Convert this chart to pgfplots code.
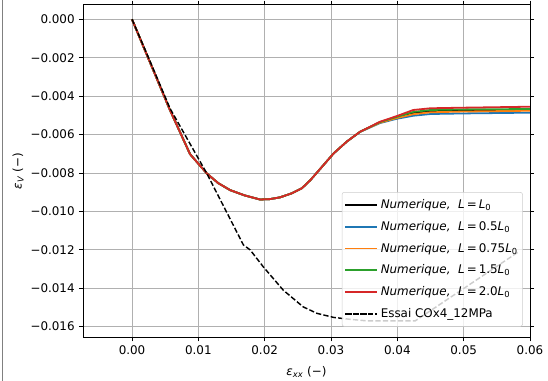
\documentclass[border=0pt]{standalone}
\usepackage{fontspec}
\setmainfont{DejaVu Sans}
\usepackage{pgfplots}
\pgfplotsset{compat=1.18}
\definecolor{tabblue}{HTML}{1F77B4}
\definecolor{taborange}{HTML}{FF7F0E}
\definecolor{tabgreen}{HTML}{2CA02C}
\definecolor{tabred}{HTML}{D62728}
\definecolor{gridgray}{HTML}{B0B0B0}
\begin{document}
\begin{tikzpicture}
\path[use as bounding box] (-69.67pt,-36.6pt) rectangle (390.33pt,283.12pt);
\draw[gray, line width=0.8pt] (-67.2pt,-36.6pt) -- (-67.2pt,283.12pt);
\begin{axis}[
  scale only axis,
  width=375.2pt, height=279.2pt,
  xmin=-0.00739, xmax=0.06,
  ymin=-0.016555, ymax=0.000763,
  xtick={0,0.01,0.02,0.03,0.04,0.05,0.06},
  xticklabels={0.00,0.01,0.02,0.03,0.04,0.05,0.06},
  ytick={-0.016,-0.014,-0.012,-0.010,-0.008,-0.006,-0.004,-0.002,0},
  yticklabels={−0.016,−0.014,−0.012,−0.010,−0.008,−0.006,−0.004,−0.002,0.000},
  scaled ticks=false,
  tick align=outside,
  major tick length=3.5pt,
  every tick/.style={black, line width=0.8pt},
  axis line style={line width=0.8pt},
  tick label style={font=\fontsize{10}{12}\selectfont},
  grid=major,
  major grid style={gridgray, line width=0.8pt},
  xlabel={\textit{ε}\textsubscript{\textit{xx}} (−)},
  ylabel={\textit{ε}\textsubscript{\textit{V}} (−)},
  label style={font=\fontsize{10}{12}\selectfont},
  xlabel style={at={(axis description cs:0.5,-0.1034)}, anchor=center},
  ylabel style={at={(axis description cs:-0.1454,0.5)}, anchor=center},
  legend cell align=left,
  legend style={at={(0.984,0.032)}, anchor=south east,
    draw=black!20, fill=white, fill opacity=0.8, text opacity=1, draw opacity=1,
    rounded corners=2pt, font=\fontsize{10}{12}\selectfont,
    row sep=5.2pt, inner xsep=2pt, inner ysep=4pt},
  legend image code/.code={\draw[#1, line width=1.5pt] (0pt,0pt) -- (21pt,0pt);
     \path (-1pt,0pt) -- (26pt,0pt);},
  every axis plot/.append style={line width=1.5pt},
]
\addplot[black] coordinates {
(0,0) (0.00573,-0.00473) (0.00875,-0.00702) (0.01127,-0.00802) (0.0130,-0.00853) (0.01478,-0.00889)
(0.0170,-0.00917) (0.0193,-0.00938) (0.0208,-0.00936) (0.0223,-0.00927) (0.0240,-0.00907) (0.0256,-0.0088) (0.0269,-0.00837)
(0.0304,-0.00698) (0.0324,-0.00636) (0.0344,-0.00585)
(0.0374,-0.00536) (0.0399,-0.0051) (0.0424,-0.00487) (0.045,-0.00478) (0.05,-0.00475) (0.06,-0.00471)};
\addlegendentry{\textit{Numerique,}\ \ \textit{L}\,=\,\textit{L}\textsubscript{0}}
\addplot[tabblue] coordinates {
(0,0) (0.00573,-0.00473) (0.00875,-0.00702) (0.01127,-0.00802) (0.0130,-0.00853) (0.01478,-0.00889)
(0.0170,-0.00917) (0.0193,-0.00938) (0.0208,-0.00936) (0.0223,-0.00927) (0.0240,-0.00907) (0.0256,-0.0088) (0.0269,-0.00837)
(0.0304,-0.00698) (0.0324,-0.00636) (0.0344,-0.00586)
(0.0374,-0.0054) (0.0399,-0.00518) (0.0424,-0.00502) (0.045,-0.00493) (0.05,-0.0049) (0.06,-0.00486)};
\addlegendentry{\textit{Numerique,}\ \ \textit{L}\,=\,0.5\textit{L}\textsubscript{0}}
\addplot[taborange] coordinates {
(0,0) (0.00573,-0.00473) (0.00875,-0.00702) (0.01127,-0.00802) (0.0130,-0.00853) (0.01478,-0.00889)
(0.0170,-0.00917) (0.0193,-0.00938) (0.0208,-0.00936) (0.0223,-0.00927) (0.0240,-0.00907) (0.0256,-0.0088) (0.0269,-0.00837)
(0.0304,-0.00698) (0.0324,-0.00636) (0.0344,-0.00585)
(0.0374,-0.00538) (0.0399,-0.00514) (0.0424,-0.00494) (0.045,-0.00484) (0.05,-0.0048) (0.06,-0.00476)};
\addlegendentry{\textit{Numerique,}\ \ \textit{L}\,=\,0.75\textit{L}\textsubscript{0}}
\addplot[tabgreen] coordinates {
(0,0) (0.00573,-0.00473) (0.00875,-0.00702) (0.01127,-0.00802) (0.0130,-0.00853) (0.01478,-0.00889)
(0.0170,-0.00917) (0.0193,-0.00938) (0.0208,-0.00936) (0.0223,-0.00927) (0.0240,-0.00907) (0.0256,-0.0088) (0.0269,-0.00837)
(0.0304,-0.00698) (0.0324,-0.00636) (0.0344,-0.00585)
(0.0374,-0.00535) (0.0399,-0.00508) (0.0424,-0.00482) (0.045,-0.00472) (0.05,-0.00469) (0.06,-0.00467)};
\addlegendentry{\textit{Numerique,}\ \ \textit{L}\,=\,1.5\textit{L}\textsubscript{0}}
\addplot[tabred] coordinates {
(0,0) (0.00573,-0.00473) (0.00875,-0.00702) (0.01127,-0.00802) (0.0130,-0.00853) (0.01478,-0.00889)
(0.0170,-0.00917) (0.0193,-0.00938) (0.0208,-0.00936) (0.0223,-0.00927) (0.0240,-0.00907) (0.0256,-0.0088) (0.0269,-0.00837)
(0.0304,-0.00698) (0.0324,-0.00636) (0.0344,-0.00585)
(0.0374,-0.00533) (0.0399,-0.00504) (0.0424,-0.00472) (0.045,-0.00463) (0.05,-0.0046) (0.06,-0.00455)};
\addlegendentry{\textit{Numerique,}\ \ \textit{L}\,=\,2.0\textit{L}\textsubscript{0}}
\addplot[black, line width=1.2pt, dash pattern=on 4.4pt off 1.9pt] coordinates {
(0,0) (0.00221,-0.00177) (0.00573,-0.00464) (0.01127,-0.00802) (0.0168,-0.01175)
(0.0178,-0.0120) (0.0198,-0.01289) (0.0228,-0.0141) (0.0258,-0.01497) (0.0279,-0.01531)
(0.0304,-0.01552) (0.0329,-0.01562) (0.0354,-0.0157) (0.0427,-0.0157) (0.0583,-0.0121)};
\addlegendentry{Essai COx4\_12MPa}
\end{axis}
\end{tikzpicture}
\end{document}
